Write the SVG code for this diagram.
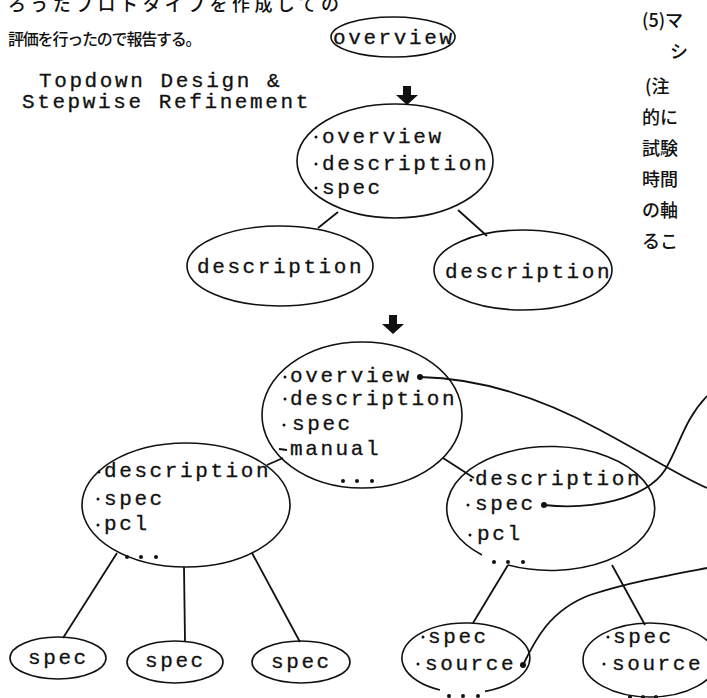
<svg xmlns="http://www.w3.org/2000/svg" width="707" height="698" viewBox="0 0 707 698">
<style>
.jp{font-family:"Noto Sans CJK JP","Noto Sans CJK SC",serif;font-size:18px;font-weight:500;fill:#111}
.tw{font-family:"Liberation Mono","DejaVu Sans Mono",monospace;font-size:21px;letter-spacing:2.6px;fill:#111;stroke:#111;stroke-width:0.3}
.ell{fill:none;stroke:#111;stroke-width:1.6}
.ln{fill:none;stroke:#111;stroke-width:1.8}
.dot{fill:#111}
</style>
<rect width="707" height="698" fill="#fff"/>
<g id="page-text">
<text class="jp" x="8" y="11" style="letter-spacing:4.4px">ろうたプロトタイプを作成しての</text>
<text class="jp" x="8" y="45" style="font-size:16px;letter-spacing:-1.2px">評価を行ったので報告する。</text>
<text class="jp" x="642" y="27">(5)マ</text>
<text class="jp" x="670" y="58">シ</text>
<text class="jp" x="645" y="93">(注</text>
<text class="jp" x="642" y="124">的に</text>
<text class="jp" x="642" y="155">試験</text>
<text class="jp" x="642" y="186">時間</text>
<text class="jp" x="642" y="217">の軸</text>
<text class="jp" x="642" y="248">るこ</text>
<text class="tw" x="39" y="87">Topdown Design &amp;</text>
<text class="tw" x="22" y="108">Stepwise Refinement</text>
</g>
<g id="arrows">
<path class="dot" d="M403,86h8v9h7l-11,10l-11,-10h7z"/>
<path class="dot" d="M389,315h8v9h7l-11,10l-11,-10h7z"/>
</g>
<g id="connectors">
<line class="ln" x1="338" y1="212" x2="318" y2="228"/>
<line class="ln" x1="458" y1="210" x2="487" y2="236"/>
<line class="ln" x1="267" y1="465" x2="283" y2="458"/>
<line class="ln" x1="443" y1="458" x2="474" y2="478"/>
<line class="ln" x1="117" y1="553" x2="63" y2="638"/>
<line class="ln" x1="184" y1="567" x2="185" y2="642"/>
<line class="ln" x1="252" y1="553" x2="300" y2="642"/>
<line class="ln" x1="508" y1="565" x2="473" y2="623"/>
<line class="ln" x1="612" y1="565" x2="645" y2="625"/>
<path class="ln" d="M420,377 C470,378 530,392 600,430 S680,476 707,488"/>
<path class="ln" d="M544,505 C590,510 645,500 665,470 C680,445 684,420 707,396"/>
<path class="ln" d="M523,665 C535,640 550,610 590,595 C630,582 670,575 707,568"/>
</g>
<g id="n-overview">
<ellipse class="ell" cx="393" cy="37" rx="62" ry="20"/>
<text class="tw" x="333" y="44">overview</text>
</g>
<g id="n-level1">
<ellipse class="ell" cx="395" cy="161" rx="98" ry="57"/>
<circle class="dot" cx="316" cy="137" r="1.5"/>
<circle class="dot" cx="316" cy="164" r="1.5"/>
<circle class="dot" cx="316" cy="188" r="1.5"/>
<text class="tw" x="322" y="143">overview</text>
<text class="tw" x="322" y="170">description</text>
<text class="tw" x="322" y="194">spec</text>
</g>
<g id="n-desc-left">
<ellipse class="ell" cx="280" cy="266" rx="93" ry="40"/>
<text class="tw" x="197" y="273">description</text>
</g>
<g id="n-desc-right">
<ellipse class="ell" cx="523" cy="270" rx="89" ry="40"/>
<text class="tw" x="445" y="278">description</text>
</g>
<g id="n-root">
<ellipse class="ell" cx="362" cy="415" rx="100" ry="73"/>
<circle class="dot" cx="285" cy="377" r="1.5"/>
<circle class="dot" cx="285" cy="399" r="1.5"/>
<circle class="dot" cx="284" cy="425" r="1.5"/>
<line class="ln" x1="279" y1="449" x2="287" y2="450"/>
<text class="tw" x="290" y="382">overview</text>
<text class="tw" x="290" y="405">description</text>
<text class="tw" x="292" y="430">spec</text>
<text class="tw" x="290" y="455">manual</text>
<circle class="dot" cx="343" cy="481" r="2"/>
<circle class="dot" cx="357" cy="481" r="2"/>
<circle class="dot" cx="372" cy="481" r="2"/>
<circle class="dot" cx="420" cy="377" r="3"/>
</g>
<g id="n-mid-left">
<ellipse class="ell" cx="186" cy="505" rx="104" ry="62"/>
<circle class="dot" cx="99" cy="472" r="1.5"/>
<circle class="dot" cx="98" cy="499" r="1.5"/>
<circle class="dot" cx="98" cy="525" r="1.5"/>
<text class="tw" x="104" y="477">description</text>
<text class="tw" x="104" y="505">spec</text>
<text class="tw" x="104" y="530">pcl</text>
<circle class="dot" cx="127" cy="557" r="2"/>
<circle class="dot" cx="141" cy="557" r="2"/>
<circle class="dot" cx="156" cy="557" r="2"/>
</g>
<g id="n-mid-right">
<path class="ell" d="M508,565 A104,62 0 1 0 482,555"/>
<circle class="dot" cx="471" cy="480" r="1.5"/>
<circle class="dot" cx="468" cy="505" r="1.5"/>
<circle class="dot" cx="470" cy="535" r="1.5"/>
<text class="tw" x="475" y="485">description</text>
<text class="tw" x="475" y="510">spec</text>
<text class="tw" x="477" y="540">pcl</text>
<circle class="dot" cx="494" cy="562" r="2"/>
<circle class="dot" cx="508" cy="562" r="2"/>
<circle class="dot" cx="523" cy="562" r="2"/>
<circle class="dot" cx="544" cy="505" r="3"/>
</g>
<g id="n-spec1">
<ellipse class="ell" cx="58" cy="658" rx="48" ry="21"/>
<text class="tw" x="28" y="664">spec</text>
</g>
<g id="n-spec2">
<ellipse class="ell" cx="175" cy="662" rx="48" ry="21"/>
<text class="tw" x="145" y="667">spec</text>
</g>
<g id="n-spec3">
<ellipse class="ell" cx="301" cy="662" rx="49" ry="21"/>
<text class="tw" x="271" y="668">spec</text>
</g>
<g id="n-src-left">
<path class="ell" d="M485,691.4 A64,35 0 1 0 440,690"/>
<circle class="dot" cx="423" cy="637" r="1.5"/>
<circle class="dot" cx="418" cy="664" r="1.5"/>
<text class="tw" x="428" y="643">spec</text>
<text class="tw" x="425" y="670">source</text>
<circle class="dot" cx="523" cy="665" r="3"/>
<circle class="dot" cx="449" cy="696" r="2"/>
<circle class="dot" cx="463" cy="696" r="2"/>
<circle class="dot" cx="478" cy="696" r="2"/>
</g>
<g id="n-src-right">
<ellipse class="ell" cx="650" cy="660" rx="67" ry="37"/>
<circle class="dot" cx="608" cy="637" r="1.5"/>
<circle class="dot" cx="604" cy="664" r="1.5"/>
<text class="tw" x="613" y="643">spec</text>
<text class="tw" x="612" y="670">source</text>
<circle class="dot" cx="630" cy="697" r="2"/>
<circle class="dot" cx="643" cy="697" r="2"/>
<circle class="dot" cx="656" cy="697" r="2"/>
</g>
</svg>
